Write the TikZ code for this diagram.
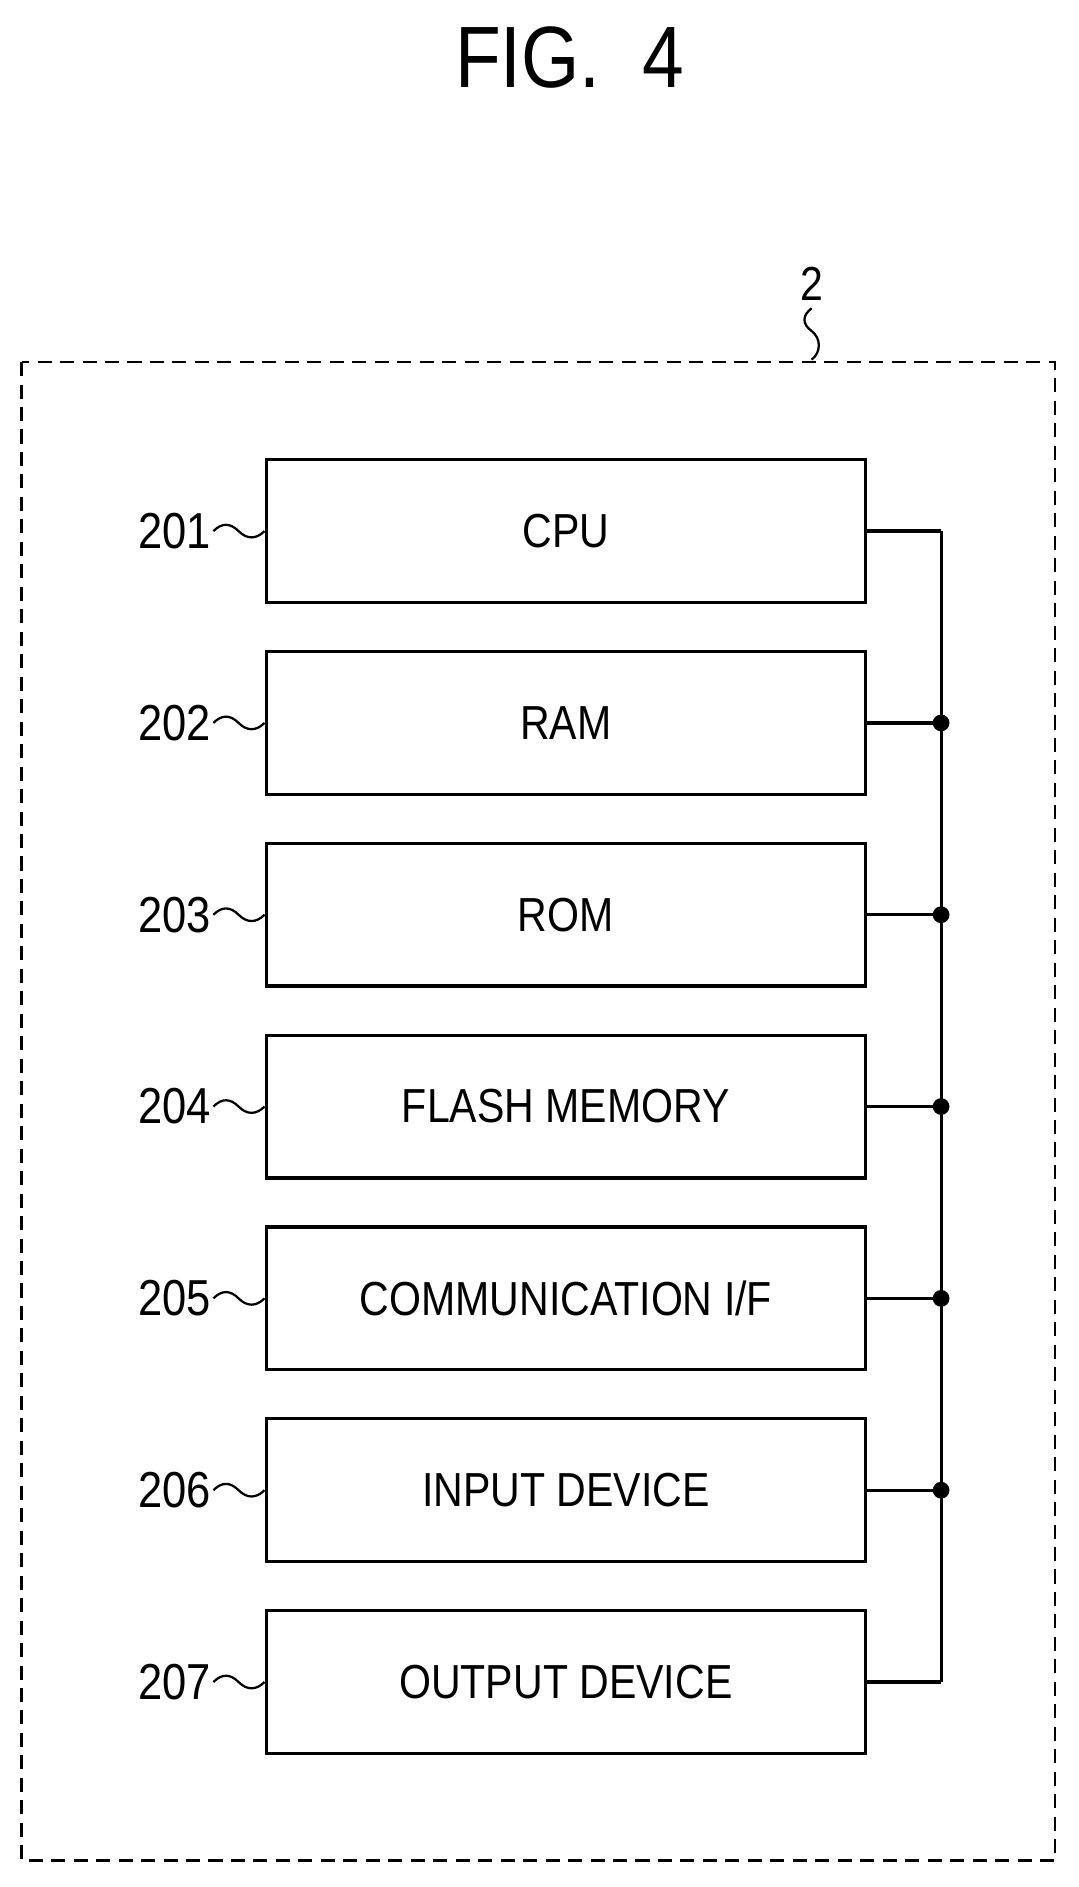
\documentclass[tikz,border=0pt]{standalone}
\usepackage{fontspec}
\setmainfont{Liberation Sans}[FakeStretch=0.86]
\begin{document}
\begin{tikzpicture}[x=0.03cm,y=-0.03cm,
  box/.style={draw,line width=2.3pt,minimum width=500*0.03cm,minimum height=119*0.03cm,font=\fontsize{34}{34}\selectfont,inner sep=0pt},
  num/.style={font=\fontsize{36}{36}\selectfont,inner sep=0pt,anchor=east},
  wire/.style={line width=2.3pt},
  sq/.style={line width=1.6pt},
  dot/.style={circle,fill,inner sep=0pt,minimum size=14*0.03cm}]
\useasboundingbox (0,0) rectangle (900,1574);
\node[font=\fontsize{62}{62}\selectfont,inner sep=0pt] (title) at (475,48) {FIG.\ \ 4};
\draw[line width=2pt,dash pattern=on 10pt off 6pt] (18,302) rectangle (880,1552);
\node[font=\fontsize{34}{34}\selectfont,inner sep=0pt] (two) at (677,237) {2};
\coordinate (twoend) at (677,300);
\draw[sq] (two.south) ++(0,6) .. controls +(-8,6) and +(-8,-6) .. +(0,19) .. controls +(8,6) and +(8,-6) .. (twoend);
\foreach \i/\t in {1/CPU,2/RAM,3/ROM,4/FLASH MEMORY,5/{COMMUNICATION I/F},6/INPUT DEVICE,7/OUTPUT DEVICE}{
  \pgfmathsetmacro{\yy}{443+160*(\i-1)}
  \node[box] (b\i) at (472,\yy) {\t};
  \node[num] (n\i) at (176,\yy) {20\i};
  \draw[sq] (n\i.east) ++(2,0) .. controls +(7,-7) and +(-7,-7) .. +(21,0) .. controls +(7,7) and +(-7,7) .. (b\i.west);
  \coordinate (j\i) at (785,\yy);
  \draw[wire] (b\i.east) -- (j\i);
}
\draw[wire] (j1) -- (j7);
\foreach \i in {2,...,6}{\node[dot] at (j\i) {};}
\end{tikzpicture}
\end{document}
